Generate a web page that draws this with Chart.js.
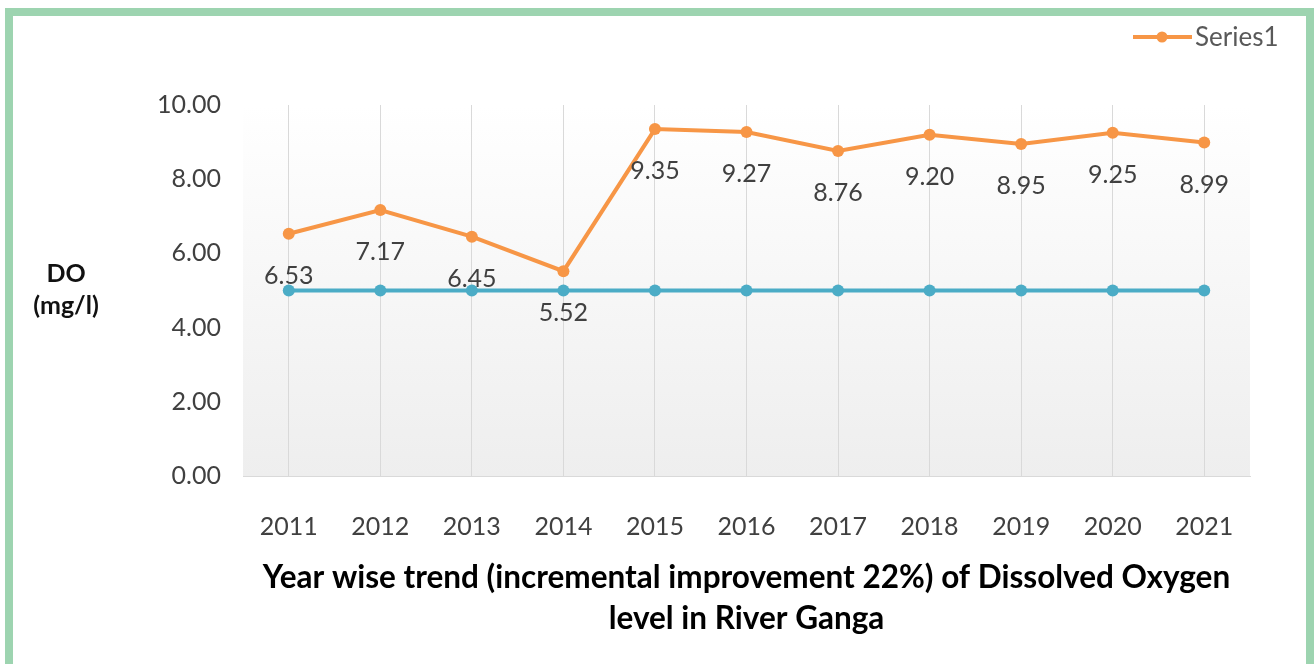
<!DOCTYPE html>
<html>
<head>
<meta charset="utf-8">
<script src="https://cdn.jsdelivr.net/npm/chart.js@4"></script>
<style>
  html, body { margin: 0; padding: 0; background: #fff; }
  canvas { display: block; }
</style>
</head>
<body>
<canvas id="doChart" width="1314" height="664"></canvas>
<script>
const years = ['2011', '2012', '2013', '2014', '2015', '2016', '2017', '2018', '2019', '2020', '2021'];
const doValues = [6.53, 7.17, 6.45, 5.52, 9.35, 9.27, 8.76, 9.20, 8.95, 9.25, 8.99];
const standardValues = [5, 5, 5, 5, 5, 5, 5, 5, 5, 5, 5];
const yTicks = [0, 2, 4, 6, 8, 10];

const FONT = 'Lato, "Open Sans", sans-serif';
const ORANGE = '#f79646';
const TEAL = '#4bacc6';

// frame, plot background, legend, y title and the data labels
const extras = {
    id: 'extras',
    beforeDraw(chart) {
        const ctx = chart.ctx;
        const a = chart.chartArea;
        ctx.save();
        const g = ctx.createLinearGradient(0, a.top, 0, a.bottom);
        g.addColorStop(0, '#ffffff');
        g.addColorStop(1, '#eeeeee');
        ctx.fillStyle = g;
        ctx.fillRect(a.left, a.top, a.right - a.left, a.bottom - a.top);

        ctx.strokeStyle = '#9dd4b0';
        ctx.lineWidth = 8;
        ctx.strokeRect(9, 12, 1301, 700);
        ctx.restore();
    },
    afterDraw(chart) {
        const ctx = chart.ctx;
        ctx.save();

        // legend (Series1 only)
        ctx.strokeStyle = ORANGE;
        ctx.lineWidth = 4;
        ctx.beginPath();
        ctx.moveTo(1133, 37);
        ctx.lineTo(1192, 37);
        ctx.stroke();
        ctx.fillStyle = ORANGE;
        ctx.beginPath();
        ctx.arc(1162, 37, 5.5, 0, Math.PI * 2);
        ctx.fill();
        ctx.fillStyle = '#595959';
        ctx.font = '26px ' + FONT;
        ctx.textAlign = 'left';
        ctx.textBaseline = 'middle';
        ctx.fillText('Series1', 1195, 38);

        // y axis title, horizontal
        ctx.fillStyle = '#111';
        ctx.font = 'bold 25px ' + FONT;
        ctx.textAlign = 'center';
        ctx.fillText('DO', 66, 274);
        ctx.fillText('(mg/l)', 66, 306);

        // value labels under the orange points
        const meta = chart.getDatasetMeta(0);
        ctx.fillStyle = '#404040';
        ctx.font = '25px ' + FONT;
        meta.data.forEach((pt, i) => {
            ctx.fillText(doValues[i].toFixed(2), pt.x, pt.y + 42);
        });
        ctx.restore();
    }
};

const ctx = document.getElementById('doChart').getContext('2d');
const doChart = new Chart(ctx, {
    type: 'line',
    data: {
        labels: years,
        datasets: [{
            label: 'Series1',
            data: doValues,
            borderColor: ORANGE,
            backgroundColor: ORANGE,
            borderWidth: 4,
            pointRadius: 6,
            pointBorderWidth: 0,
            tension: 0
        }, {
            label: 'Standard',
            data: standardValues,
            borderColor: TEAL,
            backgroundColor: TEAL,
            borderWidth: 4,
            pointRadius: 6,
            pointBorderWidth: 0,
            tension: 0
        }]
    },
    options: {
        responsive: false,
        animation: false,
        layout: {
            padding: { top: 105, right: 64, left: 0, bottom: 0 }
        },
        plugins: {
            legend: { display: false },
            tooltip: { enabled: false }
        },
        scales: {
            x: {
                offset: true,
                grid: {
                    offset: false,
                    color: '#d9d9d9',
                    drawTicks: false
                },
                border: { color: '#d9d9d9' },
                ticks: {
                    color: '#404040',
                    font: { family: FONT, size: 25 },
                    padding: 36,
                    maxRotation: 0
                },
                title: {
                    display: true,
                    text: ['Year wise trend (incremental improvement 22%) of Dissolved Oxygen', 'level in River Ganga'],
                    color: '#000',
                    font: { family: FONT, size: 31.5, weight: 'bold', lineHeight: 1.3 },
                    padding: { top: 0, bottom: 25 }
                },
                afterFit(scale) { scale.height = 188; }
            },
            y: {
                min: yTicks[0],
                max: yTicks[yTicks.length - 1],
                afterBuildTicks(scale) {
                    scale.ticks = yTicks.map(v => ({ value: v }));
                },
                grid: { display: false, drawTicks: false },
                border: { display: false },
                ticks: {
                    color: '#404040',
                    font: { family: FONT, size: 25 },
                    padding: 22,
                    callback: v => Number(v).toFixed(2)
                },
                afterFit(scale) { scale.width = 243; }
            }
        }
    },
    plugins: [extras]
});
</script>
</body>
</html>
